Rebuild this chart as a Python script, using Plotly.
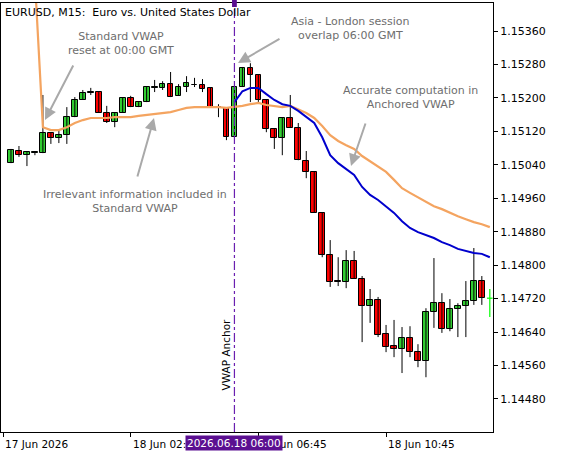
import plotly.graph_objects as go

bar_idx = list(range(61))
opens = [1.15044,1.15073,1.15063,1.15068,1.15068,1.15116,1.15104,1.15111,1.15154,1.15195,
         1.15213,1.15214,1.15164,1.15142,1.15164,1.15200,1.15178,1.15190,1.15225,1.15224,
         1.15233,1.15205,1.15226,1.15231,1.15231,1.15224,1.15178,1.15176,1.15106,1.15226,
         1.15271,1.15255,1.15195,1.15126,1.15104,1.15152,1.15128,1.15049,1.15023,1.14925,
         1.14824,1.14761,1.14760,1.14810,1.14767,1.14702,1.14717,1.14635,1.14607,1.14599,
         1.14626,1.14592,1.14571,1.14688,1.14709,1.14647,1.14695,1.14702,1.14714,1.14762]
highs = [1.15078,1.15085,1.15071,1.15073,1.15207,1.15118,1.15123,1.15178,1.15202,1.15219,
         1.15224,1.15216,1.15181,1.15164,1.15200,1.15205,1.15190,1.15226,1.15243,1.15240,
         1.15262,1.15233,1.15252,1.15248,1.15245,1.15224,1.15185,1.15176,1.15226,1.15274,
         1.15283,1.15257,1.15195,1.15126,1.15152,1.15207,1.15140,1.15073,1.15023,1.14927,
         1.14860,1.14819,1.14836,1.14834,1.14774,1.14743,1.14724,1.14657,1.14669,1.14652,
         1.14654,1.14611,1.14697,1.14817,1.14733,1.14719,1.14709,1.14762,1.14841,1.14774]
lows = [1.15044,1.15059,1.15037,1.15063,1.15068,1.15090,1.15092,1.15090,1.15154,1.15195,
        1.15207,1.15164,1.15140,1.15130,1.15164,1.15178,1.15178,1.15190,1.15214,1.15219,
        1.15202,1.15205,1.15214,1.15226,1.15214,1.15178,1.15154,1.15099,1.15106,1.15226,
        1.15190,1.15190,1.15118,1.15078,1.15063,1.15128,1.15051,1.15008,1.14925,1.14819,
        1.14748,1.14750,1.14745,1.14767,1.14616,1.14662,1.14628,1.14592,1.14580,1.14542,
        1.14580,1.14556,1.14532,1.14650,1.14638,1.14642,1.14628,1.14628,1.14705,1.14705]
closes = [1.15075,1.15063,1.15071,1.15070,1.15116,1.15104,1.15111,1.15154,1.15195,1.15212,
          1.15214,1.15164,1.15142,1.15164,1.15200,1.15178,1.15190,1.15226,1.15226,1.15233,
          1.15202,1.15226,1.15236,1.15230,1.15221,1.15178,1.15177,1.15106,1.15226,1.15271,
          1.15255,1.15195,1.15126,1.15104,1.15152,1.15128,1.15051,1.15023,1.14925,1.14824,
          1.14760,1.14760,1.14810,1.14767,1.14702,1.14717,1.14633,1.14604,1.14599,1.14626,
          1.14592,1.14571,1.14688,1.14709,1.14647,1.14695,1.14702,1.14714,1.14762,1.14721]
live_bar = 60
live_ohlc = [1.14721, 1.14743, 1.14676, 1.14721]

std_vwap = [1.1580,1.1570,1.1560,1.15482,1.15130,1.15123,1.15123,1.15130,1.15140,1.15147,
            1.15152,1.15152,1.15152,1.15154,1.15154,1.15154,1.15157,1.15159,1.15161,1.15164,
            1.15166,1.15171,1.15176,1.15178,1.15178,1.15178,1.15178,1.15176,1.15178,1.15181,
            1.15185,1.15188,1.15183,1.15181,1.15178,1.15181,1.15173,1.15164,1.15152,1.15133,
            1.15111,1.15097,1.15087,1.15078,1.15061,1.15049,1.15037,1.15023,1.15004,1.14984,
            1.14973,1.14963,1.14953,1.14941,1.14934,1.14925,1.14917,1.14910,1.14903,1.14898,1.14891]
anch_idx = list(range(28, 61))
anch_vwap = [1.15190,1.15216,1.15224,1.15224,1.15209,1.15195,1.15185,1.15181,1.15169,1.15154,
             1.15140,1.15106,1.15063,1.15044,1.15030,1.15016,1.14987,1.14968,1.14956,1.14941,
             1.14925,1.14905,1.14889,1.14879,1.14872,1.14865,1.14855,1.14848,1.14839,1.14834,
             1.14829,1.14827,1.14819]

y_ticks = [1.14480,1.14560,1.14640,1.14720,1.14800,1.14880,1.14960,1.15040,1.15120,1.15200,1.15280,1.15360]
x_tick_pos = [-1, 15, 31, 47]
x_tick_labels = ["17 Jun 2026", "18 Jun 02:45", "18 Jun 06:45", "18 Jun 10:45"]
anchor_bar = 28
anchor_label = "2026.06.18 06:00"

FONT = "DejaVu Sans"
fig = go.Figure()

wx, wy = [], []
for i in range(len(opens)):
    wx += [bar_idx[i], bar_idx[i], None]
    wy += [lows[i], highs[i], None]
fig.add_trace(go.Scatter(x=wx, y=wy, mode="lines", line=dict(color="black", width=1), hoverinfo="skip"))
MIN_H = 0.000012
bases = [min(o, c) if abs(c - o) >= MIN_H else (o + c) / 2 - MIN_H / 2 for o, c in zip(opens, closes)]
heights = [max(abs(c - o), MIN_H) for o, c in zip(opens, closes)]
colors = ["#32CD32" if c >= o else "#FF0000" for o, c in zip(opens, closes)]
fig.add_trace(go.Bar(x=bar_idx[:60], y=heights, base=bases, width=0.72,
                     marker=dict(color=colors, line=dict(color="black", width=1)), hoverinfo="skip"))
fig.add_trace(go.Scatter(x=[live_bar, live_bar, None, live_bar - 0.35, live_bar + 0.35],
                         y=[live_ohlc[2], live_ohlc[1], None, live_ohlc[0], live_ohlc[3]],
                         mode="lines", line=dict(color="#00FF00", width=1.2), hoverinfo="skip"))
fig.add_trace(go.Scatter(x=bar_idx, y=std_vwap, mode="lines", line=dict(color="#F4A460", width=2.2), hoverinfo="skip"))
fig.add_trace(go.Scatter(x=anch_idx, y=anch_vwap, mode="lines", line=dict(color="#0000CD", width=2), hoverinfo="skip"))

purple = "#5B0F91"
fig.add_vline(x=anchor_bar, line=dict(color="#6A1FB0", width=1.2, dash="dashdot"))

W, H, ML, MR, MT, MB = 563, 456, 1, 70, 3, 24
pw, ph = W - ML - MR, H - MT - MB
def px(x): return (x - ML) / pw
def py(y): return 1 - (y - MT) / ph

ann = []
for t, cx, cy in [("Standard VWAP<br>reset at 00:00 GMT", 121, 44),
                  ("Irrelevant information included in<br>Standard VWAP", 135, 201),
                  ("Asia - London session<br>overlap 06:00 GMT", 350, 29),
                  ("Accurate computation in<br>Anchored VWAP", 410, 98)]:
    ann.append(dict(xref="paper", yref="paper", x=px(cx), y=py(cy), text=t, showarrow=False,
                    xanchor="center", yanchor="middle",
                    font=dict(family=FONT, size=11, color="#6e6e6e"), align="center"))
for hx, hy, tx, ty in [(45, 120, 74, 64), (154, 118, 137, 178), (238, 63, 281, 38), (351, 166, 366, 122)]:
    ann.append(dict(xref="paper", yref="paper", x=px(hx), y=py(hy), ax=tx - hx, ay=ty - hy,
                    axref="pixel", ayref="pixel", text="", showarrow=True, arrowhead=2,
                    arrowsize=1.2, arrowwidth=2, arrowcolor="#a9a9a9"))
for pos, lab in zip(x_tick_pos, x_tick_labels):
    ann.append(dict(xref="x", yref="paper", x=pos, y=0, yshift=-4, text=lab, showarrow=False,
                    xanchor="left", yanchor="top", font=dict(family=FONT, size=10.5, color="black")))
ann.append(dict(xref="x", yref="paper", x=anchor_bar, y=0, yshift=-3, text=anchor_label, showarrow=False,
                xanchor="center", yanchor="top", bgcolor=purple, borderpad=1,
                font=dict(family=FONT, size=10.5, color="white")))
ann.append(dict(xref="x", yref="paper", x=anchor_bar, y=py(392), xshift=-8, text="VWAP Anchor", textangle=-90,
                showarrow=False, font=dict(family=FONT, size=10.5, color="black")))
ann.append(dict(xref="paper", yref="paper", x=px(3), y=py(4), text="EURUSD, M15:  Euro vs. United States Dollar",
                showarrow=False, xanchor="left", yanchor="top", font=dict(family=FONT, size=11, color="black")))

fig.update_layout(width=W, height=H, margin=dict(l=ML, r=MR, t=MT, b=MB),
    paper_bgcolor="white", plot_bgcolor="white", showlegend=False, annotations=ann, bargap=0,
    xaxis=dict(range=[-1.25, 60.4], showgrid=False, zeroline=False,
               showline=True, linecolor="black", mirror=True, tickvals=x_tick_pos, ticktext=[""] * 4,
               ticks="outside", ticklen=4, tickcolor="black"),
    yaxis=dict(range=[1.14401, 1.15427], side="right", showgrid=False, zeroline=False,
               showline=True, linecolor="black", mirror=True, tickvals=y_ticks,
               ticktext=[f"{v:.5f}" for v in y_ticks], ticks="outside", ticklen=4, tickcolor="black",
               tickfont=dict(family=FONT, size=11, color="black")))
fig.add_shape(type="rect", xref="x", yref="paper", x0=anchor_bar - 0.3, x1=anchor_bar + 0.3,
              y0=py(0), y1=py(7), fillcolor=purple, line=dict(width=0))
fig.write_html("out.html", config={"displayModeBar": False},
               post_script="document.body.style.margin='0';document.body.style.padding='0';")
